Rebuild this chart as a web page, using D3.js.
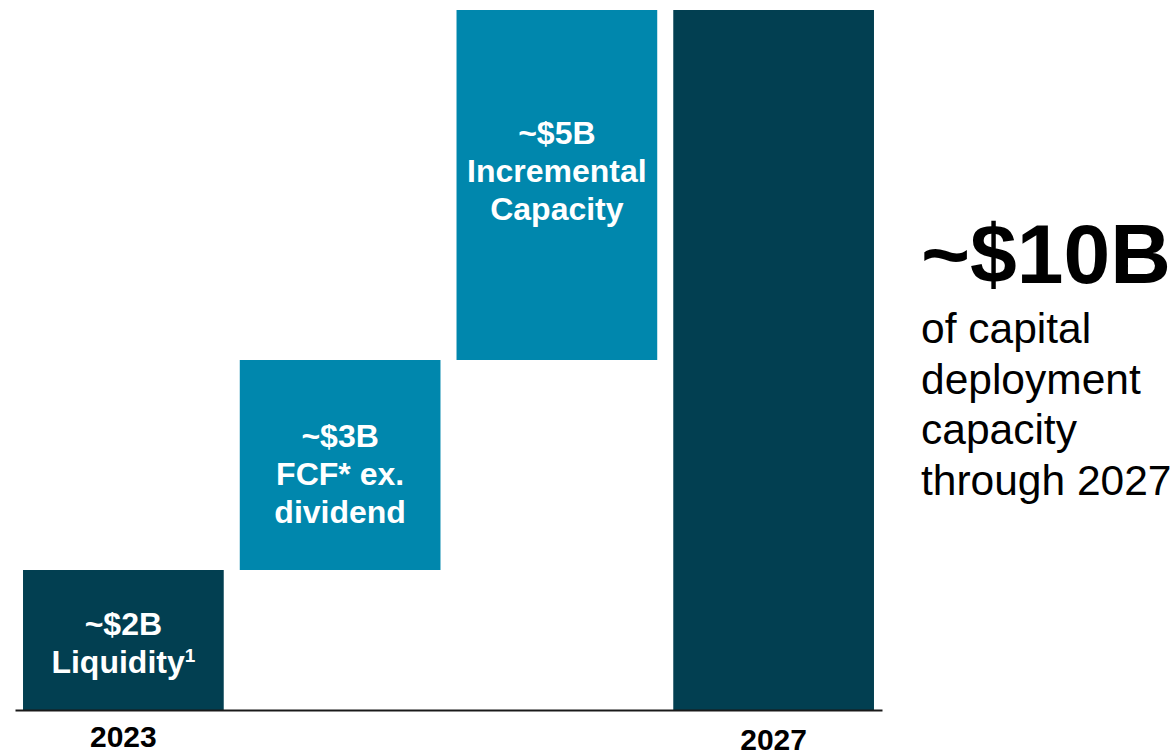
<!DOCTYPE html>
<html>
<head>
<meta charset="utf-8">
<script src="https://cdn.jsdelivr.net/npm/d3@7"></script>
<style>
  html, body { margin: 0; padding: 0; background: #ffffff; }
  svg { display: block; font-family: "Liberation Sans", Arial, sans-serif; }
</style>
</head>
<body>
<svg id="chart" width="1176" height="755"></svg>
<script>
// Capital deployment bridge, 2023 -> 2027 ($B)
const categories = ["2023", "FCF", "Incremental", "2027"];
const tickLabels = ["2023", "", "", "2027"];
const barStart = [0, 2, 5, 0];
const barValue = [2, 3, 5, 10];
const barKind = ["total", "step", "step", "total"];
const barLabels = [
  ["~$2B", "Liquidity"],
  ["~$3B", "FCF* ex.", "dividend"],
  ["~$5B", "Incremental", "Capacity"],
  []
];
const footnoteMarks = ["1", "", "", ""];
const headline = "~$10B";
const subLines = ["of capital", "deployment", "capacity", "through 2027"];

const colors = { total: "#023f51", step: "#0087ad" };
const labelNudge = [2, 8, -15, 0];

const svg = d3.select("#chart");

const x = d3.scaleBand()
  .domain(categories)
  .range([15, 882])
  .paddingInner(0.074)
  .paddingOuter(0.037);

const y = d3.scaleLinear().domain([0, 10]).range([710, 10]);

// bars
svg.append("g").selectAll("rect")
  .data(categories.map((c, i) => ({ c, i, s: barStart[i], v: barValue[i] })))
  .join("rect")
  .attr("x", d => x(d.c))
  .attr("width", x.bandwidth())
  .attr("y", d => y(d.s + d.v))
  .attr("height", d => y(d.s) - y(d.s + d.v))
  .attr("fill", d => colors[barKind[d.i]]);

// labels inside bars
const pitch = 38, cap = 23;
categories.forEach((c, i) => {
  const lines = barLabels[i];
  if (!lines.length) return;
  const cx = x(c) + x.bandwidth() / 2;
  const cy = (y(barStart[i]) + y(barStart[i] + barValue[i])) / 2;
  const first = cy - (lines.length - 1) * pitch / 2 + cap / 2 + labelNudge[i];
  lines.forEach((t, k) => {
    const txt = svg.append("text")
      .attr("x", cx)
      .attr("y", first + k * pitch)
      .attr("text-anchor", "middle")
      .attr("fill", "#ffffff")
      .attr("font-weight", "bold")
      .attr("font-size", 32);
    txt.append("tspan").text(t);
    if (k === lines.length - 1 && footnoteMarks[i]) {
      txt.append("tspan")
        .attr("font-size", 19)
        .attr("dy", -11)
        .text(footnoteMarks[i]);
    }
  });
});

// baseline axis
const axis = d3.axisBottom(x)
  .tickSize(0)
  .tickPadding(0)
  .tickFormat((d, i) => tickLabels[i]);

const gAxis = svg.append("g")
  .attr("transform", "translate(0,710)")
  .call(axis);

gAxis.select(".domain")
  .attr("stroke", "#1a1a1a")
  .attr("stroke-width", 2);

gAxis.selectAll(".tick text")
  .attr("fill", "#000000")
  .attr("font-family", "Liberation Sans, Arial, sans-serif")
  .attr("font-weight", "bold")
  .attr("font-size", 30)
  .attr("dy", null)
  .attr("y", (d, i) => i === categories.length - 1 ? 40 : 37);

// headline on the right
svg.append("text")
  .attr("x", 921)
  .attr("y", 283)
  .attr("font-weight", "bold")
  .attr("font-size", 84)
  .attr("fill", "#000000")
  .text(headline);

svg.append("g").selectAll("text")
  .data(subLines)
  .join("text")
  .attr("x", 921)
  .attr("y", (d, i) => 343 + i * 50.5)
  .attr("font-size", 42.5)
  .attr("fill", "#000000")
  .text(d => d);
</script>
</body>
</html>
